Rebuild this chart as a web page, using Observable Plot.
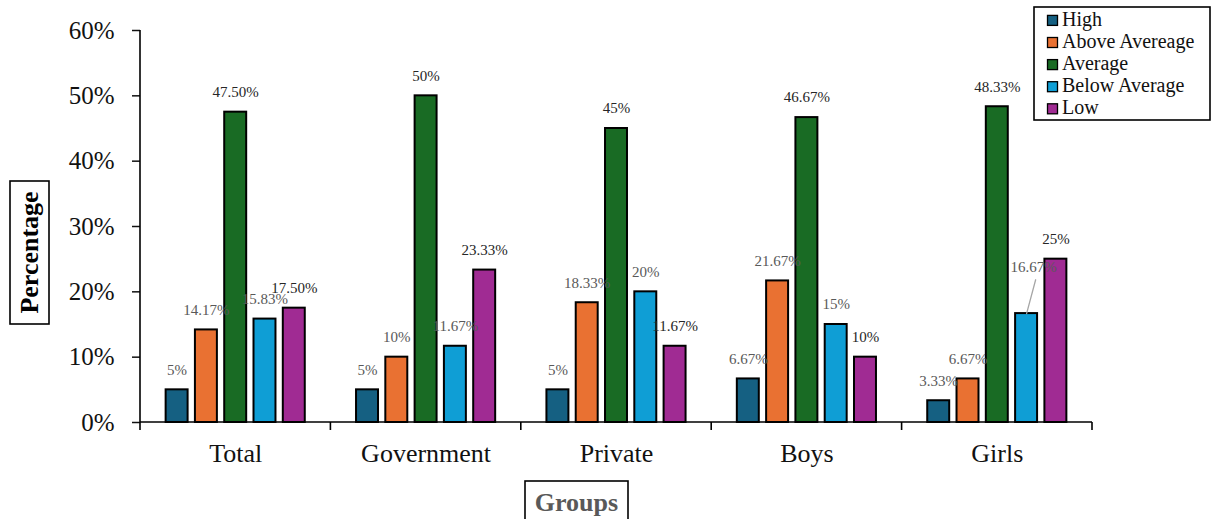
<!DOCTYPE html>
<html><head><meta charset="utf-8">
<script src="https://cdn.jsdelivr.net/npm/d3@7"></script>
<script src="https://cdn.jsdelivr.net/npm/@observablehq/plot@0.6"></script>
<style>body{margin:0;background:#fff}</style>
</head><body><div id="chart"></div>
<script>
const groups = ["Total", "Government", "Private", "Boys", "Girls"];
const categories = ["High", "Above Avereage", "Average", "Below Average", "Low"];
const high = [5, 5, 5, 6.67, 3.33];
const aboveAverage = [14.17, 10, 18.33, 21.67, 6.67];
const average = [47.5, 50, 45, 46.67, 48.33];
const belowAverage = [15.83, 11.67, 20, 15, 16.67];
const low = [17.5, 23.33, 11.67, 10, 25];
const yTicks = [0, 10, 20, 30, 40, 50, 60];
const colors = ["#156082", "#E97132", "#196B24", "#0F9ED5", "#A02B93"];

const series = [high, aboveAverage, average, belowAverage, low];
const data = groups.flatMap((g, i) => categories.map((c, j) => ({group: g, cat: c, value: series[j][i]})));
const fmt = v => Number.isInteger(v) ? `${v}%` : `${v.toFixed(2)}%`;
const darkLabels = ["Average", "Low"];
const isLeader = d => d.group === "Girls" && d.cat === "Below Average";
const serif = "'Liberation Serif','Times New Roman',Times,serif";
const leaderShape = {draw(context, l) { context.moveTo(0, 0); context.lineTo(0, -l); }};

const labelOpts = {fx: "group", x: "cat", y: "value", text: d => fmt(d.value), fontSize: 15, fontFamily: serif};

const chart = Plot.plot({
  width: 1211, height: 519,
  marginLeft: 140, marginRight: 119, marginTop: 30, marginBottom: 97,
  style: {fontFamily: serif, background: "#fff"},
  fx: {domain: groups, padding: 0, round: false, axis: null, label: null},
  x: {domain: categories, paddingInner: 0.25, paddingOuter: 0.875, round: false, axis: null, label: null},
  y: {domain: [0, 60], axis: null, label: null},
  color: {domain: categories, range: colors},
  marks: [
    Plot.axisY({ticks: yTicks, tickFormat: d => `${d}%`, tickSize: 8, tickPadding: 18, fontSize: 25, color: "#111", strokeWidth: 1.5, label: null}),
    Plot.axisFx({anchor: "bottom", tickSize: 0, tickPadding: 21, fontSize: 26, color: "#111", label: null}),
    Plot.barY(data, {fx: "group", x: "cat", y: "value", fill: "cat", stroke: "#000", strokeWidth: 2}),
    Plot.text(data.filter(d => !isLeader(d) && !darkLabels.includes(d.cat)), {...labelOpts, dy: -20, fill: "#595959"}),
    Plot.text(data.filter(d => !isLeader(d) && darkLabels.includes(d.cat)), {...labelOpts, dy: -20, fill: "#262626"}),
    Plot.text(data.filter(isLeader), {...labelOpts, dx: 7, dy: -46, fill: "#595959"}),
    Plot.vector(data.filter(isLeader), {fx: "group", x: "cat", y: "value", length: 35, rotate: 15, anchor: "start", shape: leaderShape, stroke: "#a6a6a6", strokeWidth: 1.3, fill: "none"})
  ]
});

// axis lines and group boundary ticks, positioned with the plot's own scales
const fxS = chart.scale("fx"), yS = chart.scale("y");
const svg = d3.select(chart);
const left = fxS.apply(groups[0]);
const right = fxS.apply(groups[groups.length - 1]) + fxS.bandwidth;
const y0 = yS.apply(0), yTop = yS.apply(60);
const ax = svg.append("g").attr("stroke", "#000").attr("stroke-width", 1.6);
ax.append("line").attr("x1", left).attr("x2", left).attr("y1", yTop).attr("y2", y0);
ax.append("line").attr("x1", left).attr("x2", right).attr("y1", y0).attr("y2", y0);
for (const x of [...groups.map(g => fxS.apply(g)), right]) {
  ax.append("line").attr("x1", x).attr("x2", x).attr("y1", y0).attr("y2", y0 + 8);
}

// y-axis title box
svg.append("rect").attr("x", 10).attr("y", 181).attr("width", 39).attr("height", 143)
  .attr("fill", "none").attr("stroke", "#000").attr("stroke-width", 1.6);
svg.append("text").attr("transform", "translate(38,252.5) rotate(-90)")
  .attr("text-anchor", "middle").attr("font-weight", "bold").attr("font-size", 26)
  .attr("font-family", serif).attr("fill", "#000").text("Percentage");

// x-axis title box
svg.append("rect").attr("x", 525).attr("y", 481).attr("width", 103).attr("height", 40)
  .attr("fill", "none").attr("stroke", "#000").attr("stroke-width", 1.6);
svg.append("text").attr("x", 576.5).attr("y", 510.5)
  .attr("text-anchor", "middle").attr("font-weight", "bold").attr("font-size", 26)
  .attr("font-family", serif).attr("fill", "#595959").text("Groups");

// legend
const lg = svg.append("g");
lg.append("rect").attr("x", 1034).attr("y", 7).attr("width", 176).attr("height", 113)
  .attr("fill", "#fff").attr("stroke", "#000").attr("stroke-width", 1.6);
categories.forEach((c, i) => {
  const cy = 20.4 + i * 22.1;
  lg.append("rect").attr("x", 1047.5).attr("y", cy - 5).attr("width", 10).attr("height", 10)
    .attr("fill", colors[i]).attr("stroke", "#000").attr("stroke-width", 1.3);
  lg.append("text").attr("x", 1062).attr("y", cy + 5.5).attr("font-size", 20)
    .attr("text-anchor", "start")
    .attr("font-family", serif).attr("fill", "#111").text(c);
});

document.getElementById("chart").appendChild(chart);
</script>
</body></html>
